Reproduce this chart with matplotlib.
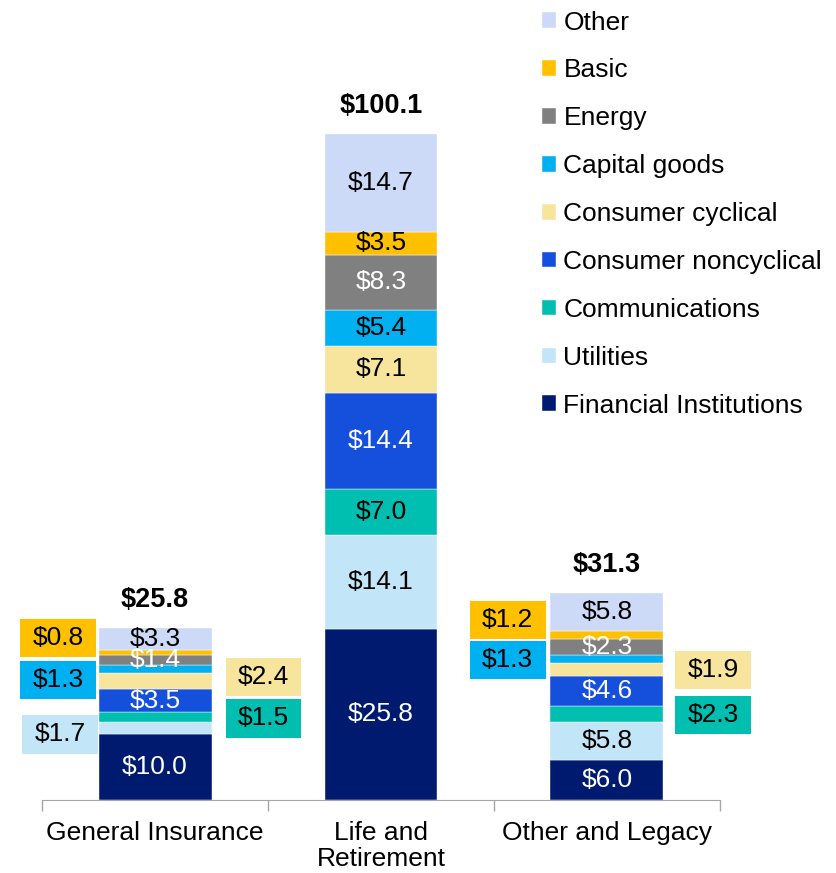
import matplotlib.pyplot as plt
from matplotlib.patches import Rectangle

plt.rcParams['font.family'] = ['Liberation Sans', 'DejaVu Sans']

categories = ["General Insurance", "Life and\nRetirement", "Other and Legacy"]
totals = [25.8, 100.1, 31.3]

# sectors, bottom to top
sectors = ["Financial Institutions", "Utilities", "Communications",
           "Consumer noncyclical", "Consumer cyclical", "Capital goods",
           "Energy", "Basic", "Other"]
financial = [10.0, 25.8, 6.0]
utilities = [1.7, 14.1, 5.8]
communications = [1.5, 7.0, 2.3]
noncyclical = [3.5, 14.4, 4.6]
cyclical = [2.4, 7.1, 1.9]
capital_goods = [1.3, 5.4, 1.3]
energy = [1.4, 8.3, 2.3]
basic = [0.8, 3.5, 1.2]
other = [3.3, 14.7, 5.8]
series = [financial, utilities, communications, noncyclical, cyclical,
          capital_goods, energy, basic, other]

colors = ["#001A70", "#C2E6F7", "#00BFB0", "#1550DC", "#F7E49D",
          "#00B0F0", "#808080", "#FFC000", "#CCDAF7"]
text_colors = ["white", "black", "black", "white", "black",
               "black", "white", "black", "black"]

# segments whose label sits in a box beside the bar: (bar, sector) -> (x offset, y centre)
callouts = {
    (0, "Basic"): (-0.43, 24.4),
    (0, "Capital goods"): (-0.43, 18.1),
    (0, "Utilities"): (-0.42, 9.9),
    (0, "Consumer cyclical"): (0.48, 18.5),
    (0, "Communications"): (0.48, 12.3),
    (2, "Basic"): (-0.44, 27.1),
    (2, "Capital goods"): (-0.44, 21.1),
    (2, "Consumer cyclical"): (0.47, 19.6),
    (2, "Communications"): (0.47, 12.8),
}
# small segments that carry no label inside the bar
unlabelled = {(0, "Basic"), (0, "Capital goods"), (0, "Consumer cyclical"),
              (0, "Communications"), (0, "Utilities"),
              (2, "Basic"), (2, "Capital goods"), (2, "Consumer cyclical"),
              (2, "Communications")}

fig = plt.figure(figsize=(8.37, 8.73), dpi=100)
ax = fig.add_axes([0.0502, 0.0836, 0.81, 0.9164])
x = list(range(len(categories)))
width = 0.5
box_w, box_h = 0.336, 5.8
fs = 19

bottoms = [0.0] * len(categories)
handles = []
for name, vals, col, tcol in zip(sectors, series, colors, text_colors):
    bars = ax.bar(x, vals, width, bottom=bottoms, color=col, label=name,
                  edgecolor="white", linewidth=0.3)
    handles.append(bars)
    for i, v in enumerate(vals):
        mid = bottoms[i] + v / 2
        if (i, name) in callouts:
            dx, yc = callouts[(i, name)]
            ax.add_patch(Rectangle((x[i] + dx - box_w / 2, yc - box_h / 2),
                                   box_w, box_h, facecolor=col, edgecolor="none",
                                   clip_on=False))
            ax.text(x[i] + dx, yc, f"${v:.1f}", ha="center", va="center",
                    fontsize=fs, color="black", clip_on=False)
        if (i, name) not in unlabelled:
            ax.text(x[i], mid, f"${v:.1f}", ha="center", va="center",
                    fontsize=fs, color=tcol)
    bottoms = [b + v for b, v in zip(bottoms, vals)]

for i, t in enumerate(totals):
    ax.text(x[i], bottoms[i] + 2.3, f"${t:.1f}", ha="center", va="bottom",
            fontsize=fs + 0.5, fontweight="bold")

ax.set_xlim(-0.5, 2.5)
ax.set_ylim(0, 120.5)
ax.set_xticks([-0.5, 0.5, 1.5, 2.5])
ax.set_xticklabels([])
ax.set_xticks(x, minor=True)
ax.set_xticklabels(categories, minor=True, fontsize=fs, linespacing=1.1)
ax.tick_params(axis="x", which="major", length=8, color="#A6A6A6", width=1)
ax.tick_params(axis="x", which="minor", length=0, pad=15)
ax.set_yticks([])
for s in ["top", "right", "left"]:
    ax.spines[s].set_visible(False)
ax.spines["bottom"].set_color("#A6A6A6")

fig.legend(handles[::-1], sectors[::-1], loc="upper left",
           bbox_to_anchor=(0.635, 1.0), frameon=False, fontsize=fs,
           handlelength=0.53, handleheight=0.53, handletextpad=0.28,
           labelspacing=0.905, borderaxespad=0)

fig.savefig("out.png", dpi=100)
